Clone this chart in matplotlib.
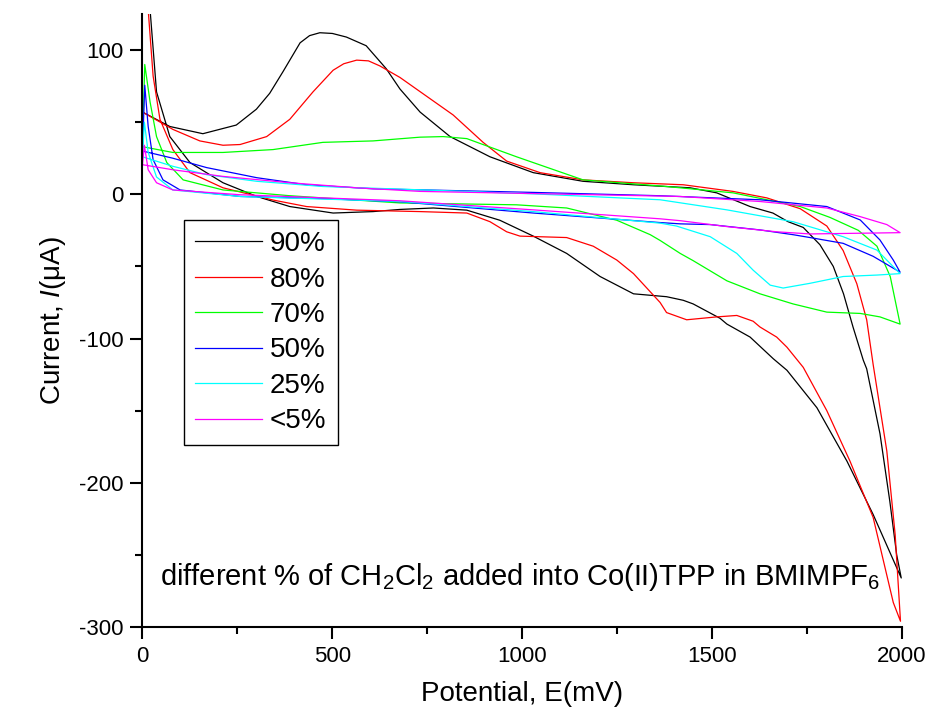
import matplotlib
matplotlib.use('Agg')
import matplotlib.pyplot as plt
from matplotlib.ticker import MultipleLocator

plt.rcParams['font.family'] = ['Liberation Sans', 'DejaVu Sans']
plt.rcParams['mathtext.fontset'] = 'custom'
plt.rcParams['mathtext.rm'] = 'Liberation Sans'
plt.rcParams['mathtext.it'] = 'Liberation Sans:italic'
plt.rcParams['axes.unicode_minus'] = False

# 90 % CH2Cl2 : forward scan then reverse scan
e90 = [0, 72, 159, 247, 300, 335, 370, 415, 440, 467, 500, 537, 589, 642, 678, 731, 810, 915, 1029,
       1160, 1293, 1442, 1512, 1600, 1660, 1700, 1740, 1784, 1819, 1846, 1871, 1898, 1907, 1942,
       1968, 1986, 1998,
       1924, 1855, 1776, 1697, 1661, 1600, 1539, 1521, 1450, 1424, 1380, 1293, 1205, 1117, 1029,
       941, 854, 766, 678, 607, 502, 388, 301, 212, 125, 72, 37, 20, 12]
i90 = [57, 47, 42, 48, 59, 70, 85, 105, 110, 112, 111.5, 109, 103, 87, 73, 57, 40, 26, 15,
       9, 6.6, 4.5, 1, -8.5, -13, -19, -23, -35, -50, -69, -92, -115, -121, -166,
       -213, -250, -266,
       -222, -185, -148, -122, -114, -99, -90, -86, -76, -73.5, -71, -69, -57, -41, -29,
       -18, -11, -9.5, -10.5, -12, -13, -8.5, -1.5, 8, 22, 40, 71, 128, 200]

# 80 %
e80 = [0, 80, 151, 212, 257, 327, 388, 449, 502, 530, 564, 595, 625, 678, 748, 818, 897, 959, 1047,
       1160, 1292, 1424, 1555, 1644, 1732, 1802, 1845, 1881, 1907, 1924, 1960, 1982, 1996,
       1977, 1924, 1863, 1802, 1740, 1697, 1670, 1626, 1608, 1565, 1539, 1512, 1433, 1380, 1363,
       1293, 1249, 1187, 1117, 994, 959, 915, 854, 731, 564, 432, 344, 212, 125, 80, 46, 28, 15, 8]
i80 = [57, 45, 37, 34, 34.5, 40, 52, 71, 86, 90.5, 93, 92.5, 89, 81, 68, 55, 36, 23, 15,
       10, 8, 6.6, 2, -2.5, -10, -22, -39, -62, -87, -118, -178, -236, -296,
       -283, -224, -185, -150, -120, -106, -99, -92, -88, -84, -84.5, -85, -87, -82, -75,
       -55, -45.6, -36, -30, -29, -26, -19, -13, -12, -11, -8.5, -4, 4.5, 15, 31, 52, 82, 128, 200]

# 70 %
e70 = [0, 80, 212, 344, 475, 607, 731, 792, 854, 985, 1160, 1380, 1555, 1732, 1810, 1885, 1934,
       1969, 1995, 1942, 1890, 1802, 1713, 1626, 1539, 1450, 1416, 1363, 1337, 1249, 1117, 985,
       678, 388, 212, 107, 64, 37, 20, 6, 0]
i70 = [33, 29, 29, 31, 36, 37, 39.6, 40, 38.6, 26, 10, 5.4, 1, -8.5, -16, -25, -36,
       -57, -90, -85, -82.6, -81.7, -76, -69, -60, -46, -41, -32, -28, -18, -9.5, -7.3,
       -6, -1, 3, 10, 22, 40, 64, 90, 33]

# 50 %
e50 = [0, 80, 169, 301, 432, 607, 731, 1029, 1363, 1626, 1802, 1890, 1942, 1977, 1995,
       1924, 1845, 1758, 1713, 1626, 1495, 1416, 1363, 1029, 678, 475, 257, 99, 54, 28, 15, 6, 0]
i50 = [30, 25, 18.5, 11.5, 6.6, 3.8, 3.1, 1.3, -1, -3.8, -8.5, -17.8, -31.7, -45.6, -54,
       -43, -34, -30, -28, -24.7, -21, -20.5, -19.6, -13, -5.2, -3, -1.5, 3, 10, 24, 47, 75.6, 30]

# 25 %
e25 = [0, 80, 169, 301, 475, 731, 1029, 1363, 1539, 1713, 1845, 1934, 1995,
       1934, 1845, 1758, 1687, 1653, 1608, 1565, 1495, 1406, 1363, 1029, 678, 257, 80, 37, 15, 5, 0]
i25 = [26, 19.4, 13.6, 9, 5.4, 3.1, 0.3, -3.8, -10.8, -19, -29.4, -38.7, -55,
       -56, -57, -61.7, -65, -63, -52.6, -41, -29.4, -22, -20, -12, -5, -1.5, 3, 12, 29, 50, 26]

# <5 %
e05 = [0, 80, 212, 388, 564, 731, 1029, 1416, 1626, 1802, 1890, 1960, 1995,
       1890, 1758, 1670, 1539, 1416, 1363, 1029, 678, 257, 80, 37, 15, 5, 0]
i05 = [20.5, 17, 12.4, 8, 4.5, 2, 0.5, -1.5, -5, -9.5, -15.5, -21, -26.6,
       -27, -27.5, -26, -22.4, -18.3, -17, -10.8, -4.5, -0.3, 3, 8, 17, 34, 20.5]

labels = ['90%', '80%', '70%', '50%', '25%', '<5%']
colors = ['black', '#ff0000', '#00ff00', '#0000ff', '#00ffff', '#ff00ff']
curves = [(e90, i90), (e80, i80), (e70, i70), (e50, i50), (e25, i25), (e05, i05)]

fig = plt.figure(figsize=(9.3, 7.17), dpi=100)
ax = fig.add_axes([0.1532, 0.1255, 0.8167, 0.855])

for (e, i), c, lab in zip(curves, colors, labels):
    ax.plot(e, i, color=c, lw=0.9, label=lab)

ax.set_xlim(0, 2000)
ax.set_ylim(-300, 125)
ax.xaxis.set_major_locator(MultipleLocator(500))
ax.xaxis.set_minor_locator(MultipleLocator(250))
ax.yaxis.set_major_locator(MultipleLocator(100))
ax.yaxis.set_minor_locator(MultipleLocator(50))

for s in ['top', 'right']:
    ax.spines[s].set_visible(False)
for s in ['left', 'bottom']:
    ax.spines[s].set_linewidth(1.5)
ax.tick_params(which='major', length=8.6, width=1.5, labelsize=16, pad=5)
ax.tick_params(which='minor', length=5, width=1.5)

ax.set_xlabel('Potential, E(mV)', fontsize=20, labelpad=10)
ax.set_ylabel(r'Current, $\mathit{I}$(μA)', fontsize=20, labelpad=8)

ax.text(46, -271, r'different % of CH$_2$Cl$_2$ added into Co(II)TPP in BMIMPF$_6$',
        fontsize=21, va='baseline', ha='left')

leg = ax.legend(loc='upper left', bbox_to_anchor=(0.0546, 0.664), borderaxespad=0,
                fontsize=20, handlelength=2.4, handletextpad=0.3, labelspacing=0.34,
                borderpad=0.4, fancybox=False, framealpha=1)
leg.get_frame().set_edgecolor('black')
leg.get_frame().set_linewidth(1.0)

plt.savefig('out.png', dpi=100)
